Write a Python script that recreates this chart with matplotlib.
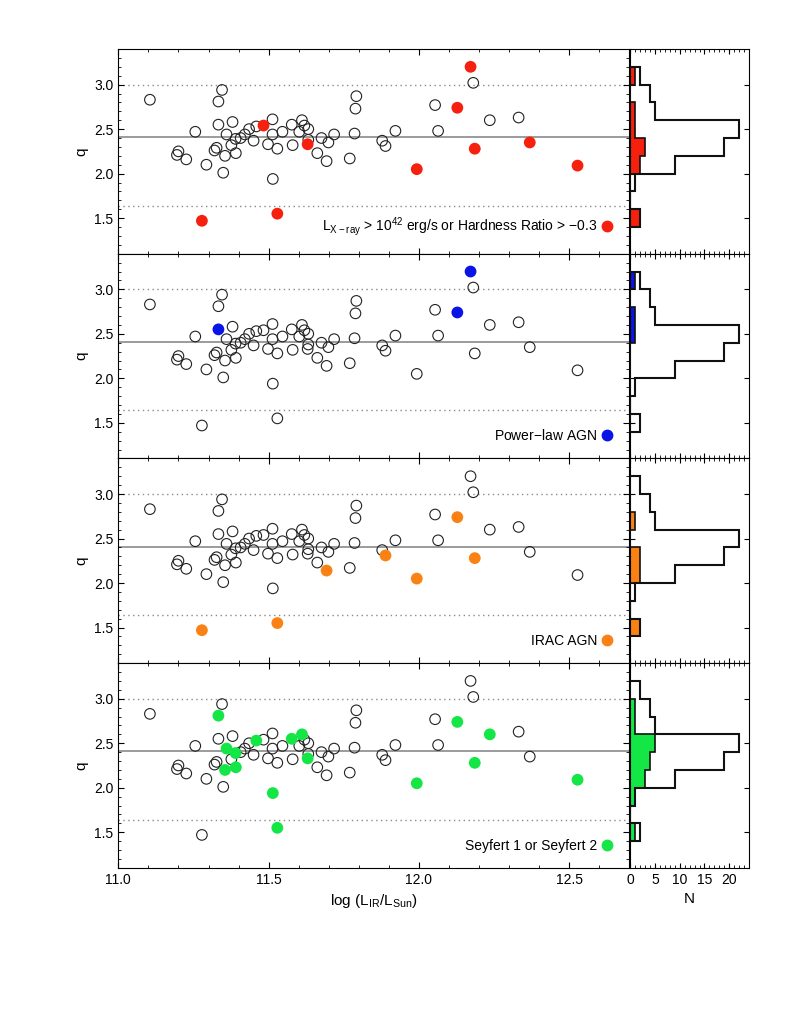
import matplotlib.pyplot as plt
from matplotlib.lines import Line2D
from matplotlib.ticker import MultipleLocator
import numpy as np

plt.rcParams['font.family'] = ['Liberation Sans', 'DejaVu Sans']
plt.rcParams['mathtext.default'] = 'regular'
plt.rcParams['font.size'] = 10

# full sample: log(L_IR/L_sun) and q
log_lir = [11.105, 11.195, 11.200, 11.226, 11.256, 11.293, 11.278, 11.320, 11.327, 11.333,
           11.345, 11.333, 11.360, 11.355, 11.349, 11.376, 11.380, 11.391, 11.390, 11.407,
           11.421, 11.435, 11.450, 11.459, 11.483, 11.498, 11.513, 11.513, 11.514, 11.529,
           11.529, 11.546, 11.577, 11.580, 11.602, 11.611, 11.619, 11.632, 11.630, 11.632,
           11.662, 11.676, 11.693, 11.699, 11.718, 11.770, 11.786, 11.789, 11.792, 11.878,
           11.889, 11.922, 11.993, 12.054, 12.064, 12.128, 12.172, 12.181, 12.186, 12.236,
           12.332, 12.369, 12.528]
q = [2.83, 2.21, 2.25, 2.16, 2.47, 2.10, 1.47, 2.26, 2.29, 2.81,
     2.94, 2.55, 2.44, 2.20, 2.01, 2.32, 2.58, 2.23, 2.39, 2.40,
     2.44, 2.50, 2.37, 2.53, 2.54, 2.33, 2.61, 2.44, 1.94, 2.28,
     1.55, 2.47, 2.55, 2.32, 2.47, 2.60, 2.54, 2.50, 2.33, 2.38,
     2.23, 2.40, 2.14, 2.35, 2.44, 2.17, 2.45, 2.73, 2.87, 2.37,
     2.31, 2.48, 2.05, 2.77, 2.48, 2.74, 3.20, 3.02, 2.28, 2.60,
     2.63, 2.35, 2.09]

# which sources are flagged as AGN by each criterion (indices into the sample)
xray_idx = [56, 55, 24, 38, 61, 58, 52, 62, 6, 30]
powerlaw_idx = [56, 55, 11]
irac_idx = [55, 50, 58, 42, 52, 6, 30]
seyfert_idx = [9, 12, 18, 13, 17, 23, 28, 30, 32, 35, 38, 52, 55, 58, 59, 62]

# q histograms (bins of 0.2 from 1.4 to 3.2)
q_edges = [1.4, 1.6, 1.8, 2.0, 2.2, 2.4, 2.6, 2.8, 3.0, 3.2]
n_all = [2, 0, 1, 9, 19, 22, 5, 4, 2]
n_xray = [2, 0, 0, 2, 3, 1, 1, 0, 1]
n_powerlaw = [0, 0, 0, 0, 0, 1, 1, 0, 1]
n_irac = [2, 0, 0, 2, 2, 0, 1, 0, 0]
n_seyfert = [1, 0, 1, 3, 4, 5, 1, 1, 0]

q_mean = 2.41
q_lo = 1.64
q_hi = 3.0

panels = [
    (xray_idx, n_xray, '#f5200e', r'L$_{X-ray}$ > 10$^{42}$ erg/s or Hardness Ratio > $-$0.3'),
    (powerlaw_idx, n_powerlaw, '#0a14e6', 'Power$-$law AGN'),
    (irac_idx, n_irac, '#fa8214', 'IRAC AGN'),
    (seyfert_idx, n_seyfert, '#14e646', 'Seyfert 1 or Seyfert 2'),
]

x = np.array(log_lir)
y = np.array(q)

fig = plt.figure(figsize=(7.89, 10.21), dpi=100)

for i, (idx, counts, color, label) in enumerate(panels):
    bottom = 0.7515 - i * 0.2005
    ax = fig.add_axes([0.150, bottom, 0.6475, 0.2005])
    hx = fig.add_axes([0.7985, bottom, 0.151, 0.2005])

    flagged = np.zeros(len(x), dtype=bool)
    flagged[idx] = True

    ax.axhline(q_mean, color='#8a8a8a', lw=1.2, zorder=1)
    ax.axhline(q_hi, color='#8a8a8a', lw=1, ls=(0, (1, 2.5)), zorder=1)
    ax.axhline(q_lo, color='#8a8a8a', lw=1, ls=(0, (1, 2.5)), zorder=1)
    ax.scatter(x[~flagged], y[~flagged], s=58, facecolors='none',
               edgecolors='#222222', linewidths=0.8, zorder=2)
    ax.scatter(x[flagged], y[flagged], s=72, color=color, edgecolors='none', zorder=3)

    handle = Line2D([], [], marker='o', ls='', color=color, markersize=7.5)
    ax.legend([handle], [label], loc='lower right', markerfirst=False, frameon=False,
              handlelength=1.0, handletextpad=0.2, borderaxespad=0.7, fontsize=10)

    ax.set_xlim(11.0, 12.7)
    ax.set_ylim(1.1, 3.4)
    ax.xaxis.set_major_locator(MultipleLocator(0.5))
    ax.xaxis.set_minor_locator(MultipleLocator(0.1))
    ax.yaxis.set_major_locator(MultipleLocator(0.5))
    ax.yaxis.set_minor_locator(MultipleLocator(0.1))
    ax.tick_params(which='both', direction='in', top=True, right=True, labelsize=10)
    ax.tick_params(which='major', length=4.5)
    ax.tick_params(which='minor', length=2.5)
    ax.set_ylabel('q', fontsize=11, labelpad=4)
    ax.yaxis.set_major_formatter(plt.FormatStrFormatter('%.1f'))
    ax.xaxis.set_major_formatter(plt.FormatStrFormatter('%.1f'))

    # histogram of q: flagged sources filled, full sample as outline
    hx.stairs(counts, q_edges, orientation='horizontal', fill=True, color=color, zorder=2)
    hx.stairs(counts, q_edges, orientation='horizontal', color='#111111', lw=1.2, zorder=3)
    hx.stairs(n_all, q_edges, orientation='horizontal', color='#111111', lw=1.5, zorder=4)
    hx.set_xlim(0, 24)
    hx.set_ylim(1.1, 3.4)
    hx.xaxis.set_major_locator(MultipleLocator(5))
    hx.xaxis.set_minor_locator(MultipleLocator(1))
    hx.yaxis.set_major_locator(MultipleLocator(0.5))
    hx.tick_params(which='both', direction='in', top=True, right=True, labelleft=False,
                   labelsize=10)
    hx.tick_params(which='major', length=3.5)
    hx.tick_params(which='minor', length=2)

    if i < 3:
        ax.tick_params(labelbottom=False)
        hx.tick_params(labelbottom=False)
    else:
        ax.set_xlabel(r'log (L$_{IR}$/L$_{Sun}$)', fontsize=11)
        hx.set_xlabel('N', fontsize=11)

fig.savefig('out.png', dpi=100)
